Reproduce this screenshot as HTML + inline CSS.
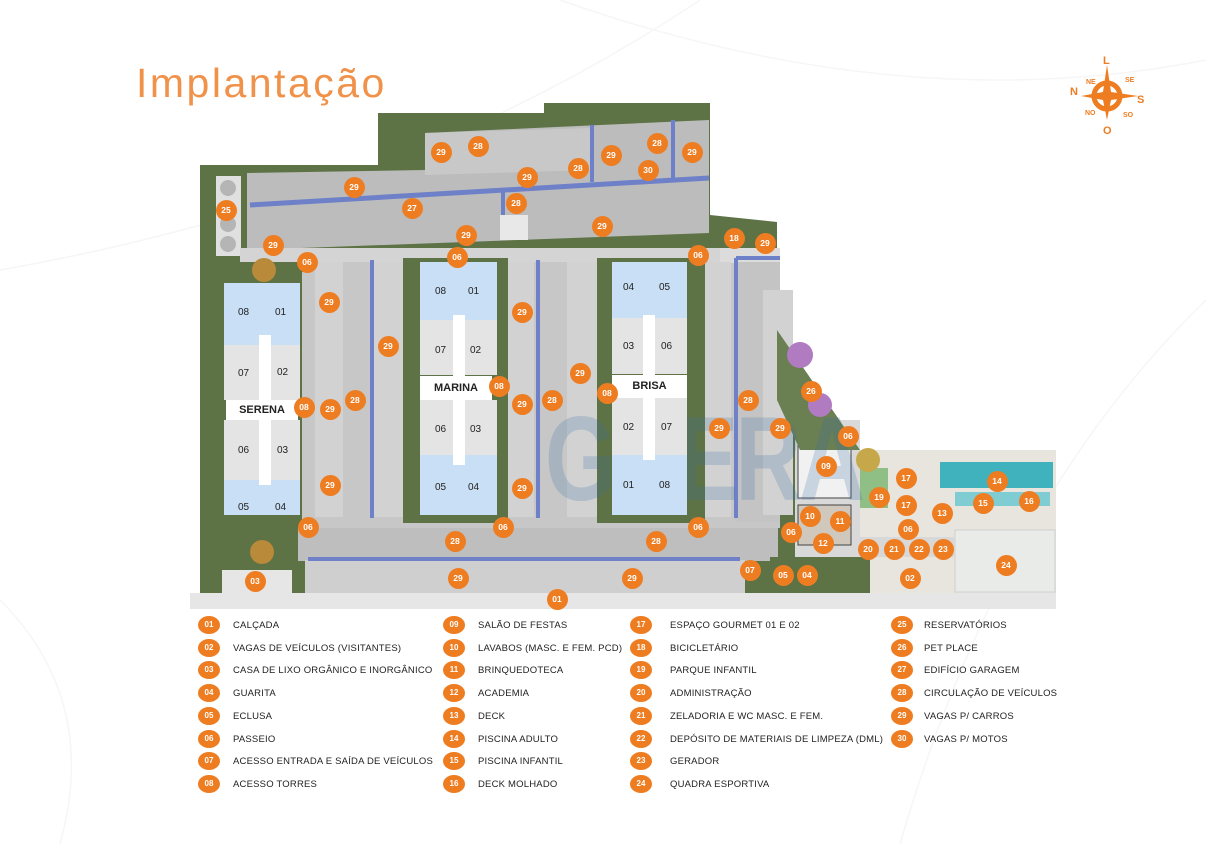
<!DOCTYPE html>
<html><head><meta charset="utf-8">
<style>
*{margin:0;padding:0;box-sizing:border-box}
body{width:1206px;height:844px;background:#fff;position:relative;overflow:hidden;font-family:"Liberation Sans",sans-serif}
.a{position:absolute}
.m{position:absolute;width:21px;height:21px;margin:-10.5px 0 0 -10.5px;border-radius:50%;background:#ee7d22;color:#fff;font-size:8.5px;font-weight:bold;text-align:center;line-height:21px}
.u{position:absolute;font-size:10px;color:#222;text-align:center}
.lg{position:absolute;font-size:9.5px;color:#222;letter-spacing:.2px}
.lc{position:absolute;width:22px;height:18px;border-radius:50%;background:#ee7d22;color:#fff;font-size:8px;font-weight:bold;text-align:center;line-height:18px}
.bl{background:#c9dff5}
.gr{background:#e4e4e4}
.lab{position:absolute;background:#fff;font-size:11px;font-weight:bold;color:#222;text-align:center}
</style></head><body>
<svg class="a" style="left:0;top:0" width="1206" height="844">
<g fill="none" stroke="#f6f6f6" stroke-width="1.5">
<path d="M0 270 Q400 200 700 0"/><path d="M560 0 Q900 120 1206 60"/><path d="M900 844 Q1000 500 1206 300"/><path d="M0 600 Q100 700 60 844"/>
</g>
<polygon points="200,165 378,165 378,113 544,113 544,103 710,103 710,215 777,222 777,330 860,450 1056,450 1056,595 200,595" fill="#5d7245"/>
<polygon points="247,173 425,170 425,133 709,120 709,233 247,250" fill="#bcbcbc"/>
<polygon points="425,133 592,128 592,170 425,175" fill="#c8c8c8"/>
<polyline points="250,205 709,178" stroke="#6d80c8" stroke-width="5" fill="none"/>
<line x1="592" y1="125" x2="592" y2="182" stroke="#6d80c8" stroke-width="4"/>
<line x1="673" y1="120" x2="673" y2="178" stroke="#6d80c8" stroke-width="4"/>
<line x1="503" y1="192" x2="503" y2="215" stroke="#6d80c8" stroke-width="4"/>
<rect x="500" y="215" width="28" height="25" fill="#e8e8e8"/>
<rect x="216" y="176" width="25" height="80" fill="#e0e0e0"/>
<circle cx="228" cy="188" r="8" fill="#b5b5b5"/><circle cx="228" cy="224" r="8" fill="#b5b5b5"/><circle cx="228" cy="244" r="8" fill="#b5b5b5"/>
<rect x="300" y="248" width="480" height="280" fill="#c7c7c7"/>
<rect x="240" y="248" width="540" height="14" fill="#d4d4d4"/>
<rect x="210" y="262" width="95" height="10" fill="#5d7245"/>
<rect x="298" y="528" width="480" height="33" fill="#bebebe"/>
<rect x="305" y="560" width="440" height="33" fill="#cfcfcf"/>
<rect x="720" y="248" width="60" height="15" fill="#dcdcdc"/>
<rect x="735" y="262" width="45" height="260" fill="#c4c4c4"/>
<rect x="315" y="262" width="28" height="255" fill="#d2d2d2"/>
<rect x="373" y="262" width="30" height="255" fill="#d2d2d2"/>
<rect x="508" y="262" width="26" height="255" fill="#d2d2d2"/>
<rect x="567" y="262" width="30" height="255" fill="#d2d2d2"/>
<rect x="703" y="262" width="28" height="255" fill="#d2d2d2"/>
<rect x="763" y="290" width="30" height="225" fill="#d2d2d2"/>
<rect x="403" y="258" width="105" height="265" fill="#5d7245"/>
<rect x="597" y="258" width="108" height="265" fill="#5d7245"/>
<rect x="210" y="272" width="92" height="250" fill="#5d7245"/>
<g stroke="#6d80c8" stroke-width="4">
<line x1="372" y1="260" x2="372" y2="518"/><line x1="538" y1="260" x2="538" y2="518"/><line x1="736" y1="258" x2="736" y2="518"/><line x1="736" y1="258" x2="780" y2="258"/>
<line x1="308" y1="559" x2="740" y2="559"/>
</g>
<rect x="190" y="593" width="866" height="16" fill="#e6e6e6"/>
<rect x="222" y="570" width="70" height="24" fill="#e6e6e6"/>
<rect x="795" y="420" width="65" height="173" fill="#d9d9d9"/>
<rect x="798" y="440" width="53" height="58" fill="#f1f1f1" stroke="#444" stroke-width="1"/>
<rect x="798" y="505" width="53" height="40" fill="#d0c8bd" stroke="#444" stroke-width="1"/>
<rect x="860" y="450" width="196" height="143" fill="#e8e4de"/>
<rect x="860" y="468" width="28" height="40" fill="#8fbf84"/>
<rect x="940" y="462" width="113" height="26" fill="#3fb2bd"/>
<rect x="955" y="492" width="95" height="14" fill="#7fccd2"/>
<rect x="955" y="530" width="100" height="62" fill="#e9ebe9" stroke="#cfcfcf"/>
<rect x="860" y="537" width="95" height="20" fill="#d8d8d8"/>
<rect x="770" y="557" width="100" height="36" fill="#5d7245"/>
<polygon points="777,330 860,450 800,450 777,400" fill="#6a7f52"/>
<circle cx="800" cy="355" r="13" fill="#b07bc0"/><circle cx="820" cy="405" r="12" fill="#b07bc0"/><circle cx="868" cy="460" r="12" fill="#c6a84a"/>
<circle cx="264" cy="270" r="12" fill="#b98a3a"/><circle cx="262" cy="552" r="12" fill="#b98a3a"/>
</svg>
<div class="a" style="left:545px;top:400px;font-size:92px;font-weight:bold;color:rgba(60,110,170,.22);letter-spacing:-3px;line-height:1;transform:scaleY(1.3);transform-origin:top">GUERA</div>
<div class="a bl" style="left:224px;top:283px;width:76px;height:62px"></div>
<div class="a gr" style="left:224px;top:345px;width:76px;height:55px"></div>
<div class="a gr" style="left:224px;top:420px;width:76px;height:60px"></div>
<div class="a bl" style="left:224px;top:480px;width:76px;height:35px"></div>
<div class="a" style="left:259px;top:335px;width:12px;height:150px;background:#fff"></div>
<div class="lab" style="left:226px;top:400px;width:72px;height:20px;line-height:20px">SERENA</div>
<div class="u" style="left:238px;top:307px">08</div><div class="u" style="left:275px;top:307px">01</div>
<div class="u" style="left:238px;top:368px">07</div><div class="u" style="left:277px;top:367px">02</div>
<div class="u" style="left:238px;top:445px">06</div><div class="u" style="left:277px;top:445px">03</div>
<div class="u" style="left:238px;top:502px">05</div><div class="u" style="left:275px;top:502px">04</div>

<div class="a bl" style="left:420px;top:262px;width:77px;height:58px"></div>
<div class="a gr" style="left:420px;top:320px;width:77px;height:55px"></div>
<div class="a gr" style="left:420px;top:400px;width:77px;height:55px"></div>
<div class="a bl" style="left:420px;top:455px;width:77px;height:60px"></div>
<div class="a" style="left:453px;top:315px;width:12px;height:150px;background:#fff"></div>
<div class="lab" style="left:420px;top:376px;width:72px;height:24px;line-height:24px">MARINA</div>
<div class="u" style="left:435px;top:286px">08</div><div class="u" style="left:468px;top:286px">01</div>
<div class="u" style="left:435px;top:345px">07</div><div class="u" style="left:470px;top:345px">02</div>
<div class="u" style="left:435px;top:424px">06</div><div class="u" style="left:470px;top:424px">03</div>
<div class="u" style="left:435px;top:482px">05</div><div class="u" style="left:468px;top:482px">04</div>

<div class="a bl" style="left:612px;top:262px;width:75px;height:56px"></div>
<div class="a gr" style="left:612px;top:318px;width:75px;height:56px"></div>
<div class="a gr" style="left:612px;top:398px;width:75px;height:57px"></div>
<div class="a bl" style="left:612px;top:455px;width:75px;height:60px"></div>
<div class="a" style="left:643px;top:315px;width:12px;height:145px;background:#fff"></div>
<div class="lab" style="left:612px;top:375px;width:75px;height:23px;line-height:23px">BRISA</div>
<div class="u" style="left:623px;top:282px">04</div><div class="u" style="left:659px;top:282px">05</div>
<div class="u" style="left:623px;top:341px">03</div><div class="u" style="left:661px;top:341px">06</div>
<div class="u" style="left:623px;top:422px">02</div><div class="u" style="left:661px;top:422px">07</div>
<div class="u" style="left:623px;top:480px">01</div><div class="u" style="left:659px;top:480px">08</div>

<div class="m" style="left:441px;top:152px">29</div><div class="m" style="left:478px;top:146px">28</div><div class="m" style="left:611px;top:155px">29</div><div class="m" style="left:657px;top:143px">28</div><div class="m" style="left:692px;top:152px">29</div><div class="m" style="left:648px;top:170px">30</div><div class="m" style="left:578px;top:168px">28</div><div class="m" style="left:527px;top:177px">29</div><div class="m" style="left:354px;top:187px">29</div><div class="m" style="left:412px;top:208px">27</div><div class="m" style="left:516px;top:203px">28</div><div class="m" style="left:602px;top:226px">29</div><div class="m" style="left:226px;top:210px">25</div><div class="m" style="left:466px;top:235px">29</div><div class="m" style="left:457px;top:257px">06</div><div class="m" style="left:273px;top:245px">29</div><div class="m" style="left:307px;top:262px">06</div><div class="m" style="left:698px;top:255px">06</div><div class="m" style="left:734px;top:238px">18</div><div class="m" style="left:765px;top:243px">29</div>
<div class="m" style="left:329px;top:302px">29</div><div class="m" style="left:388px;top:346px">29</div><div class="m" style="left:522px;top:312px">29</div><div class="m" style="left:580px;top:373px">29</div><div class="m" style="left:499px;top:386px">08</div><div class="m" style="left:355px;top:400px">28</div><div class="m" style="left:330px;top:409px">29</div><div class="m" style="left:304px;top:407px">08</div><div class="m" style="left:522px;top:404px">29</div><div class="m" style="left:552px;top:400px">28</div><div class="m" style="left:607px;top:393px">08</div><div class="m" style="left:748px;top:400px">28</div><div class="m" style="left:719px;top:428px">29</div><div class="m" style="left:780px;top:428px">29</div><div class="m" style="left:811px;top:391px">26</div><div class="m" style="left:848px;top:436px">06</div><div class="m" style="left:826px;top:466px">09</div><div class="m" style="left:906px;top:478px">17</div><div class="m" style="left:997px;top:481px">14</div><div class="m" style="left:879px;top:497px">19</div><div class="m" style="left:906px;top:505px">17</div><div class="m" style="left:983px;top:503px">15</div><div class="m" style="left:1029px;top:501px">16</div><div class="m" style="left:942px;top:513px">13</div><div class="m" style="left:810px;top:516px">10</div><div class="m" style="left:840px;top:521px">11</div><div class="m" style="left:908px;top:529px">06</div><div class="m" style="left:791px;top:532px">06</div><div class="m" style="left:823px;top:543px">12</div>
<div class="m" style="left:330px;top:485px">29</div><div class="m" style="left:522px;top:488px">29</div><div class="m" style="left:308px;top:527px">06</div><div class="m" style="left:503px;top:527px">06</div><div class="m" style="left:698px;top:527px">06</div><div class="m" style="left:455px;top:541px">28</div><div class="m" style="left:656px;top:541px">28</div><div class="m" style="left:868px;top:549px">20</div><div class="m" style="left:894px;top:549px">21</div><div class="m" style="left:919px;top:549px">22</div><div class="m" style="left:943px;top:549px">23</div><div class="m" style="left:1006px;top:565px">24</div><div class="m" style="left:750px;top:570px">07</div><div class="m" style="left:783px;top:575px">05</div><div class="m" style="left:807px;top:575px">04</div><div class="m" style="left:910px;top:578px">02</div><div class="m" style="left:255px;top:581px">03</div><div class="m" style="left:458px;top:578px">29</div><div class="m" style="left:632px;top:578px">29</div><div class="m" style="left:557px;top:599px">01</div>

<div class="a" style="left:136px;top:60px;font-size:41px;color:#f0924a;letter-spacing:2.5px">Implantação</div>
<svg class="a" style="left:1065px;top:50px" width="90" height="90">
<circle cx="42" cy="46" r="13" fill="none" stroke="#ee7d22" stroke-width="5"/>
<polygon points="42,15 46,42 73,46 46,50 42,70 38,50 16,46 38,42" fill="#ee7d22"/>
<g fill="#ee7d22" font-family="Liberation Sans" font-weight="bold">
<text x="38" y="14" font-size="11">L</text><text x="72" y="53" font-size="11">S</text><text x="38" y="84" font-size="11">O</text><text x="5" y="45" font-size="11">N</text>
<text x="21" y="34" font-size="7">NE</text><text x="60" y="32" font-size="7">SE</text><text x="20" y="65" font-size="7">NO</text><text x="58" y="67" font-size="7">SO</text></g>
</svg>
<div class="lc" style="left:198px;top:616px">01</div><div class="lg" style="left:233px;top:620px">CALÇADA</div>
<div class="lc" style="left:198px;top:639px">02</div><div class="lg" style="left:233px;top:643px">VAGAS DE VEÍCULOS (VISITANTES)</div>
<div class="lc" style="left:198px;top:661px">03</div><div class="lg" style="left:233px;top:665px">CASA DE LIXO ORGÂNICO E INORGÂNICO</div>
<div class="lc" style="left:198px;top:684px">04</div><div class="lg" style="left:233px;top:688px">GUARITA</div>
<div class="lc" style="left:198px;top:707px">05</div><div class="lg" style="left:233px;top:711px">ECLUSA</div>
<div class="lc" style="left:198px;top:730px">06</div><div class="lg" style="left:233px;top:734px">PASSEIO</div>
<div class="lc" style="left:198px;top:752px">07</div><div class="lg" style="left:233px;top:756px">ACESSO ENTRADA E SAÍDA DE VEÍCULOS</div>
<div class="lc" style="left:198px;top:775px">08</div><div class="lg" style="left:233px;top:779px">ACESSO TORRES</div>

<div class="lc" style="left:443px;top:616px">09</div><div class="lg" style="left:478px;top:620px">SALÃO DE FESTAS</div>
<div class="lc" style="left:443px;top:639px">10</div><div class="lg" style="left:478px;top:643px">LAVABOS (MASC. E FEM. PCD)</div>
<div class="lc" style="left:443px;top:661px">11</div><div class="lg" style="left:478px;top:665px">BRINQUEDOTECA</div>
<div class="lc" style="left:443px;top:684px">12</div><div class="lg" style="left:478px;top:688px">ACADEMIA</div>
<div class="lc" style="left:443px;top:707px">13</div><div class="lg" style="left:478px;top:711px">DECK</div>
<div class="lc" style="left:443px;top:730px">14</div><div class="lg" style="left:478px;top:734px">PISCINA ADULTO</div>
<div class="lc" style="left:443px;top:752px">15</div><div class="lg" style="left:478px;top:756px">PISCINA INFANTIL</div>
<div class="lc" style="left:443px;top:775px">16</div><div class="lg" style="left:478px;top:779px">DECK MOLHADO</div>

<div class="lc" style="left:630px;top:616px">17</div><div class="lg" style="left:670px;top:620px">ESPAÇO GOURMET 01 E 02</div>
<div class="lc" style="left:630px;top:639px">18</div><div class="lg" style="left:670px;top:643px">BICICLETÁRIO</div>
<div class="lc" style="left:630px;top:661px">19</div><div class="lg" style="left:670px;top:665px">PARQUE INFANTIL</div>
<div class="lc" style="left:630px;top:684px">20</div><div class="lg" style="left:670px;top:688px">ADMINISTRAÇÃO</div>
<div class="lc" style="left:630px;top:707px">21</div><div class="lg" style="left:670px;top:711px">ZELADORIA E WC MASC. E FEM.</div>
<div class="lc" style="left:630px;top:730px">22</div><div class="lg" style="left:670px;top:734px">DEPÓSITO DE MATERIAIS DE LIMPEZA (DML)</div>
<div class="lc" style="left:630px;top:752px">23</div><div class="lg" style="left:670px;top:756px">GERADOR</div>
<div class="lc" style="left:630px;top:775px">24</div><div class="lg" style="left:670px;top:779px">QUADRA ESPORTIVA</div>

<div class="lc" style="left:891px;top:616px">25</div><div class="lg" style="left:924px;top:620px">RESERVATÓRIOS</div>
<div class="lc" style="left:891px;top:639px">26</div><div class="lg" style="left:924px;top:643px">PET PLACE</div>
<div class="lc" style="left:891px;top:661px">27</div><div class="lg" style="left:924px;top:665px">EDIFÍCIO GARAGEM</div>
<div class="lc" style="left:891px;top:684px">28</div><div class="lg" style="left:924px;top:688px">CIRCULAÇÃO DE VEÍCULOS</div>
<div class="lc" style="left:891px;top:707px">29</div><div class="lg" style="left:924px;top:711px">VAGAS P/ CARROS</div>
<div class="lc" style="left:891px;top:730px">30</div><div class="lg" style="left:924px;top:734px">VAGAS P/ MOTOS</div>
</body></html>
